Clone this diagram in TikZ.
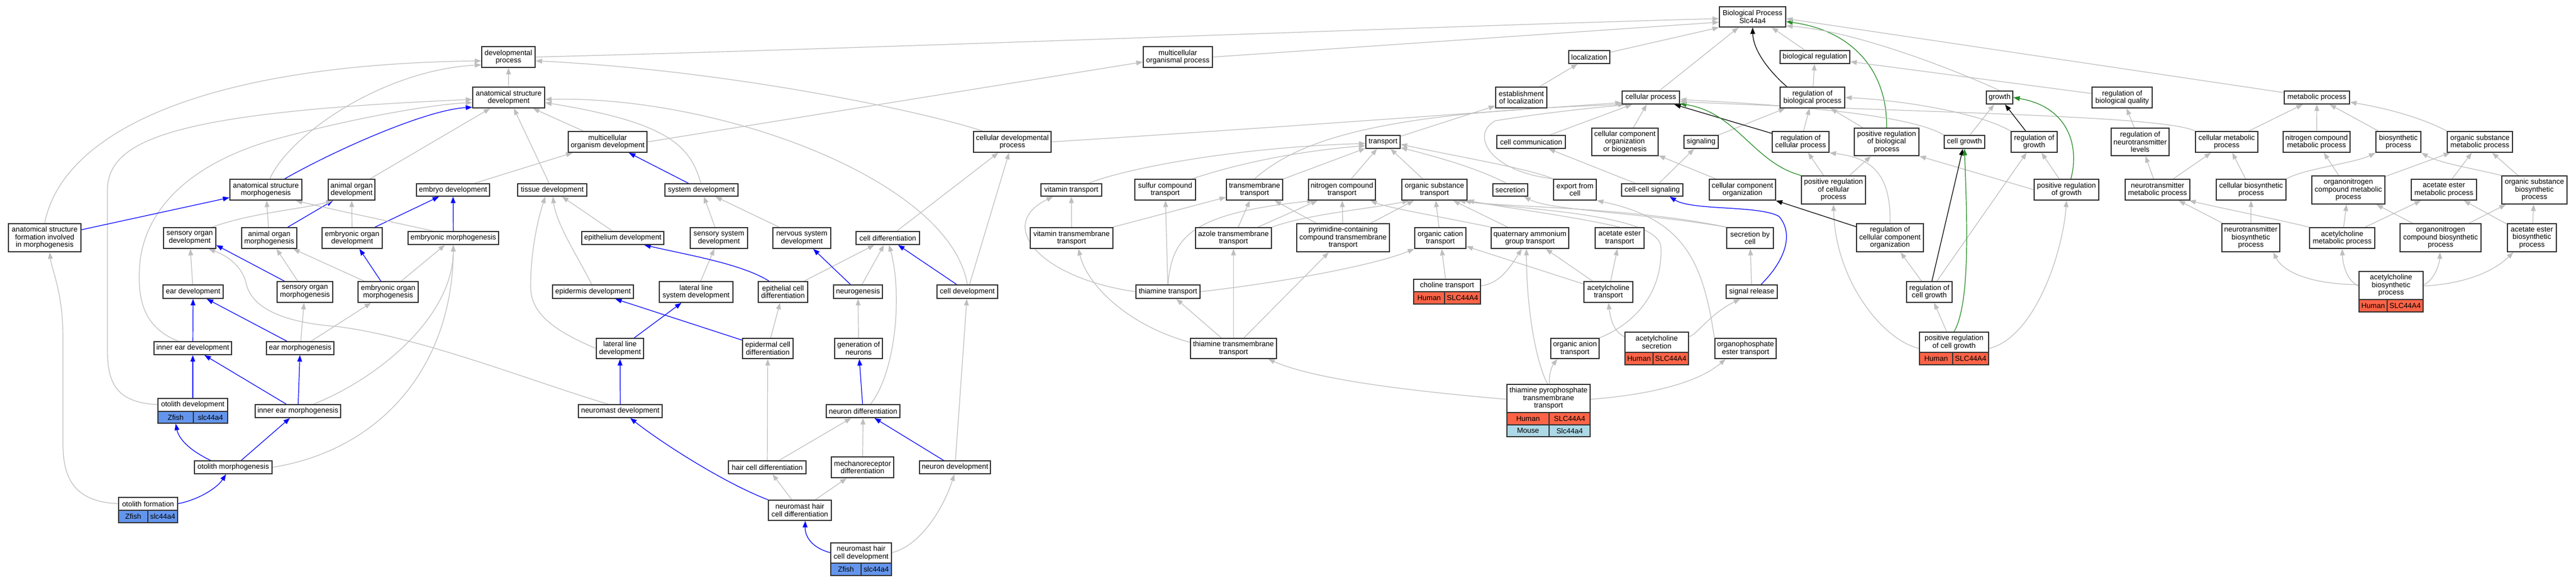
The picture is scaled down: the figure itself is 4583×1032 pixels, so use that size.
\documentclass[tikz,border=0pt]{standalone}
\usepackage{fontspec}
\setmainfont{Liberation Sans}
\usetikzlibrary{arrows.meta,calc}
\pgfdeclarelayer{bg}
\pgfsetlayers{bg,main}
\definecolor{egray}{RGB}{190,190,190}
\definecolor{egreen}{RGB}{34,139,34}
\definecolor{cHuman}{RGB}{255,99,71}
\definecolor{cZfish}{RGB}{100,149,237}
\definecolor{cMouse}{RGB}{173,216,230}
\definecolor{bdr}{RGB}{50,50,50}
\def\geneHuman{SLC44A4}\def\geneZfish{slc44a4}\def\geneMouse{Slc44a4}
\tikzset{
 gobox/.style={draw=bdr,line width=1.8pt,fill=white,inner sep=1pt,align=center,font=\fontsize{13}{13.5}\selectfont},
 txt/.style={inner sep=0pt,align=center,font=\fontsize{13}{13.5}\selectfont},
 cell/.style={draw=bdr,line width=1.4pt},
 conn/.style={line width=1.2pt,-{Triangle[length=11.5pt,width=8.5pt]}},
 isa/.style={conn,draw=egray},
 partof/.style={conn,draw=blue},
 regl/.style={conn,draw=black},
 posr/.style={conn,draw=egreen},
}
\newcommand\bx[6]{%
 \pgfmathsetmacro\cxx{(#2+#4)/2}%
 \pgfmathsetmacro\cyy{(#3+#5)/2}%
 \pgfmathsetmacro\ww{#4-#2}%
 \pgfmathsetmacro\hh{#5-#3}%
 \node[gobox,minimum width=\ww pt,minimum height=\hh pt] (#1) at (\cxx,\cyy) {#6};}
\newcommand\gbx[9]{%
 \pgfmathsetmacro\cxx{(#2+#3)/2}\pgfmathsetmacro\ww{#3-#2}%
 \pgfmathsetmacro\cyy{(#5+#7)/2}\pgfmathsetmacro\hh{#7-#5}%
 \pgfmathsetmacro\tyy{(#5+#6)/2}\pgfmathsetmacro\ryy{(#6+#7)/2}%
 \pgfmathsetmacro\lxx{(#2+#4)/2}\pgfmathsetmacro\rxx{(#4+#3)/2}%
 \node[gobox,minimum width=\ww pt,minimum height=\hh pt] (#1) at (\cxx,\cyy) {};
 \node[txt] (#1-t) at (\cxx,\tyy) {#8};
 \draw[cell,fill=c#9] (#2,#6) rectangle (#4,#7);
 \draw[cell,fill=c#9] (#4,#6) rectangle (#3,#7);
 \node[txt] (#1-s) at (\lxx,\ryy) {#9};
 \node[txt] (#1-g) at (\rxx,\ryy) {\csname gene#9\endcsname};
 \draw[draw=bdr,line width=1.8pt] (#2,#5) rectangle (#3,#7);}
\begin{document}
\begin{tikzpicture}[x=1pt,y=-1pt]
\useasboundingbox (0,0) rectangle (4583,1032);
\begin{pgfonlayer}{bg}\fill[white] (0,0) rectangle (4583,1032);\end{pgfonlayer}
% ---------- nodes ----------
\bx{bp}{3059}{12}{3177}{48}{Biological Process\\Slc44a4}
\bx{devproc}{857}{83}{952}{120}{developmental\\process}
\bx{mop}{2034}{83}{2157}{120}{multicellular\\organismal process}
\bx{loc}{2791}{90}{2864}{113}{localization}
\bx{bioreg}{3167}{90}{3291}{113}{biological regulation}
\bx{asd}{841}{155}{969}{192}{anatomical structure\\development}
\bx{estloc}{2661}{155}{2752}{192}{establishment\\of localization}
\bx{cellproc}{2886}{162}{2988}{185}{cellular process}
\bx{regbp}{3167}{155}{3282}{192}{regulation of\\biological process}
\bx{growth}{3534}{162}{3581}{185}{growth}
\bx{regbq}{3722}{155}{3829}{192}{regulation of\\biological quality}
\bx{metab}{4064}{162}{4180}{185}{metabolic process}
\bx{mod}{1011}{234}{1151}{271}{multicellular\\organism development}
\bx{celldevproc}{1732}{234}{1870}{271}{cellular developmental\\process}
\bx{transport}{2430}{241}{2491}{264}{transport}
\bx{cellcomm}{2663}{241}{2785}{264}{cell communication}
\bx{ccob}{2832}{228}{2950}{277}{cellular component\\organization\\or biogenesis}
\bx{signaling}{2996}{241}{3057}{264}{signaling}
\bx{regcp}{3153}{234}{3254}{271}{regulation of\\cellular process}
\bx{posregbp}{3299}{228}{3414}{277}{positive regulation\\of biological\\process}
\bx{cellgrowth}{3459}{241}{3531}{264}{cell growth}
\bx{reggrowth}{3578}{234}{3660}{271}{regulation of\\growth}
\bx{regntl}{3756}{228}{3859}{277}{regulation of\\neurotransmitter\\levels}
\bx{cellmet}{3906}{234}{4017}{271}{cellular metabolic\\process}
\bx{ncmet}{4062}{234}{4181}{271}{nitrogen compound\\metabolic process}
\bx{biosyn}{4227}{234}{4307}{271}{biosynthetic\\process}
\bx{osmet}{4354}{234}{4470}{271}{organic substance\\metabolic process}
\bx{asm}{409}{319}{537}{356}{anatomical structure\\morphogenesis}
\bx{aod}{584}{319}{667}{356}{animal organ\\development}
\bx{embdev}{741}{327}{871}{349}{embryo development}
\bx{tissdev}{921}{327}{1044}{349}{tissue development}
\bx{sysdev}{1183}{327}{1313}{349}{system development}
\bx{vittr}{1852}{327}{1960}{349}{vitamin transport}
\bx{sulftr}{2019}{319}{2127}{356}{sulfur compound\\transport}
\bx{tmtr}{2182}{319}{2282}{356}{transmembrane\\transport}
\bx{nctr}{2328}{319}{2447}{356}{nitrogen compound\\transport}
\bx{ostr}{2494}{319}{2610}{356}{organic substance\\transport}
\bx{secretion}{2656}{327}{2718}{349}{secretion}
\bx{export}{2764}{319}{2840}{356}{export from\\cell}
\bx{ccsig}{2885}{327}{2994}{349}{cell-cell signaling}
\bx{cco}{3041}{319}{3159}{356}{cellular component\\organization}
\bx{posregcp}{3205}{313}{3319}{363}{positive regulation\\of cellular\\process}
\bx{posreggrowth}{3619}{319}{3734}{356}{positive regulation\\of growth}
\bx{ntmet}{3781}{319}{3896}{356}{neurotransmitter\\metabolic process}
\bx{cellbiosyn}{3943}{319}{4067}{356}{cellular biosynthetic\\process}
\bx{oncmet}{4113}{313}{4243}{363}{organonitrogen\\compound metabolic\\process}
\bx{aemet}{4290}{319}{4406}{356}{acetate ester\\metabolic process}
\bx{osbiosyn}{4451}{313}{4567}{363}{organic substance\\biosynthetic\\process}
\bx{asfim}{15}{398}{144}{448}{anatomical structure\\formation involved\\in morphogenesis}
\bx{sod}{291}{405}{384}{442}{sensory organ\\development}
\bx{aom}{430}{405}{528}{442}{animal organ\\morphogenesis}
\bx{eod}{573}{405}{680}{442}{embryonic organ\\development}
\bx{embmorph}{726}{412}{887}{435}{embryonic morphogenesis}
\bx{epidev}{1035}{412}{1181}{435}{epithelium development}
\bx{ssd}{1228}{405}{1330}{442}{sensory system\\development}
\bx{nsd}{1375}{405}{1478}{442}{nervous system\\development}
\bx{celldiff}{1523}{412}{1636}{435}{cell differentiation}
\bx{vittmtr}{1833}{405}{1980}{442}{vitamin transmembrane\\transport}
\bx{azole}{2127}{405}{2262}{442}{azole transmembrane\\transport}
\bx{pyrim}{2307}{398}{2472}{448}{pyrimidine-containing\\compound transmembrane\\transport}
\bx{octr}{2517}{405}{2608}{442}{organic cation\\transport}
\bx{qagt}{2653}{405}{2791}{442}{quaternary ammonium\\group transport}
\bx{aetr}{2838}{405}{2925}{442}{acetate ester\\transport}
\bx{secbycell}{3072}{405}{3155}{442}{secretion by\\cell}
\bx{regcco}{3303}{398}{3422}{448}{regulation of\\cellular component\\organization}
\bx{ntbiosyn}{3953}{398}{4056}{448}{neurotransmitter\\biosynthetic\\process}
\bx{achmet}{4109}{405}{4225}{442}{acetylcholine\\metabolic process}
\bx{oncbiosyn}{4270}{398}{4414}{448}{organonitrogen\\compound biosynthetic\\process}
\bx{aebiosyn}{4461}{398}{4548}{448}{acetate ester\\biosynthetic\\process}
\bx{eardev}{290}{507}{397}{531}{ear development}
\bx{som}{493}{501}{592}{538}{sensory organ\\morphogenesis}
\bx{eom}{637}{501}{744}{538}{embryonic organ\\morphogenesis}
\bx{epiddev}{983}{507}{1127}{531}{epidermis development}
\bx{llsd}{1173}{501}{1304}{538}{lateral line\\system development}
\bx{epicd}{1349}{501}{1437}{538}{epithelial cell\\differentiation}
\bx{neurogenesis}{1483}{507}{1570}{531}{neurogenesis}
\bx{celldev}{1667}{507}{1775}{531}{cell development}
\bx{thtr}{2021}{507}{2135}{531}{thiamine transport}
\bx{achtr}{2818}{501}{2905}{538}{acetylcholine\\transport}
\bx{sigrel}{3071}{507}{3162}{531}{signal release}
\bx{regcg}{3392}{501}{3473}{538}{regulation of\\cell growth}
\bx{iedev}{274}{608}{412}{631}{inner ear development}
\bx{earmorph}{474}{608}{594}{631}{ear morphogenesis}
\bx{lld}{1061}{602}{1145}{638}{lateral line\\development}
\bx{epdcd}{1321}{602}{1411}{638}{epidermal cell\\differentiation}
\bx{genneur}{1485}{602}{1570}{638}{generation of\\neurons}
\bx{thtmtr}{2118}{602}{2271}{638}{thiamine transmembrane\\transport}
\bx{oatr}{2759}{602}{2845}{638}{organic anion\\transport}
\bx{opetr}{3051}{602}{3160}{638}{organophosphate\\ester transport}
\bx{iem}{454}{720}{606}{743}{inner ear morphogenesis}
\bx{nmdev}{1029}{720}{1178}{743}{neuromast development}
\bx{neurdiff}{1470}{720}{1601}{743}{neuron differentiation}
\bx{otomorph}{346}{820}{484}{843}{otolith morphogenesis}
\bx{hcd}{1296}{820}{1434}{843}{hair cell differentiation}
\bx{mrd}{1479}{813}{1590}{850}{mechanoreceptor\\differentiation}
\bx{neurdev}{1636}{820}{1762}{843}{neuron development}
\bx{nmhcd}{1367}{890}{1479}{926}{neuromast hair\\cell differentiation}
\gbx{choline}{2515}{2634}{2570}{497}{519}{541}{choline transport}{Human}
\gbx{achbiosyn}{4197}{4311}{4247}{483}{533}{555}{acetylcholine\\biosynthetic\\process}{Human}
\gbx{achsec}{2891}{3004}{2941}{591}{627}{649}{acetylcholine\\secretion}{Human}
\gbx{posregcg}{3415}{3538}{3474}{591}{627}{649}{positive regulation\\of cell growth}{Human}
\gbx{otodev}{281}{405}{344}{709}{732}{753}{otolith development}{Zfish}
\gbx{otoform}{211}{316}{263}{885}{908}{930}{otolith formation}{Zfish}
\gbx{nmhcdev}{1478}{1586}{1532}{966}{1002}{1024}{neuromast hair\\cell development}{Zfish}
\node[gobox,minimum width=148pt,minimum height=93pt] (tpptr) at (2755,730.5) {};
\node[txt] (tpptr-t) at (2755,709) {thiamine pyrophosphate\\transmembrane\\transport};
\draw[cell,fill=cHuman] (2681,734) rectangle (2756,756);
\draw[cell,fill=cHuman] (2756,734) rectangle (2829,756);
\draw[cell,fill=cMouse] (2681,756) rectangle (2756,777);
\draw[cell,fill=cMouse] (2756,756) rectangle (2829,777);
\node[txt] (tpptr-s1) at (2718.5,745) {Human};
\node[txt] (tpptr-g1) at (2792.5,745) {SLC44A4};
\node[txt] (tpptr-s2) at (2718.5,766.5) {Mouse};
\node[txt] (tpptr-g2) at (2792.5,766.5) {Slc44a4};
\draw[draw=bdr,line width=1.8pt] (2681,684) rectangle (2829,777);
% ---------- edges ----------
\begin{pgfonlayer}{bg}
% to Biological Process
\draw[isa] (devproc.east) .. controls (1600,85) and (2600,45) .. (bp.183);
\draw[isa] (mop.east) -- (bp.189);
\draw[isa] (loc) -- (bp.south west);
\draw[isa] (cellproc) -- (bp.217);
\draw[regl] (regbp.157) .. controls (3140,120) and (3119,85) .. (bp.south);
\draw[isa] (bioreg) -- (bp.-29);
\draw[posr] (posregbp.north) .. controls (3358,130) and (3300,55) .. (bp.-8);
\draw[isa] (growth.north) .. controls (3480,125) and (3300,55) .. (bp.-15);
\draw[isa] (metab) -- (bp.-3);
\draw[isa] (regbq) -- (bioreg);
\draw[isa] (regntl) -- (regbq);
\draw[isa] (regbp) -- (bioreg);
\draw[isa] (estloc) -- (loc);
\draw[isa] (transport) -- (estloc);
\draw[isa] (mod.east) -- (mop.188);
\draw[isa] (celldevproc.160) .. controls (1650,200) and (1300,125) .. (devproc.-8);
\draw[isa] (celldevproc.east) .. controls (2300,225) and (2700,195) .. (cellproc.190);
\draw[isa] (tmtr.north) .. controls (2310,250) and (2450,200) .. (cellproc.195);
\draw[isa] (export.north west) .. controls (2650,305) and (2615,240) .. (2660,215) .. controls (2750,200) and (2850,190) .. (cellproc.200);
\draw[isa] (cellcomm) -- (cellproc);
\draw[isa] (ccob) -- (cellproc);
\draw[isa] (signaling) -- (regbp);
\draw[regl] (regcp) -- (cellproc);
\draw[isa] (regcp) -- (regbp);
\draw[isa] (posregbp) -- (regbp);
\draw[isa] (posregcp) -- (regcp);
\draw[isa] (posregcp) -- (posregbp);
\draw[posr] (posregcp.north west) .. controls (3120,290) and (3090,200) .. (cellproc.-12);
\draw[isa] (cellmet.north west) .. controls (3850,205) and (3400,200) .. (cellproc.-8);
\draw[isa] (cellgrowth.north west) .. controls (3400,205) and (3200,188) .. (cellproc.-4);
\draw[isa] (cellgrowth) -- (growth);
\draw[regl] (reggrowth) -- (growth);
\draw[isa] (reggrowth.north west) .. controls (3520,200) and (3380,178) .. (regbp.east);
\draw[isa] (posreggrowth) -- (reggrowth);
\draw[posr] (posreggrowth.68) .. controls (3700,260) and (3680,190) .. (growth.east);
\draw[isa] (posreggrowth.west) -- (posregbp.south east);
\draw[regl] (regcg) -- (cellgrowth);
\draw[isa] (regcg) -- (reggrowth);
\draw[isa] (regcg) -- (regcco);
\draw[isa] (posregcg) -- (regcg);
\draw[posr] (posregcg.north) .. controls (3505,540) and (3500,400) .. (cellgrowth.south);
\draw[isa] (posregcg.east) .. controls (3620,600) and (3670,450) .. (posreggrowth.south);
\draw[isa] (posregcg.west) .. controls (3350,605) and (3265,500) .. (posregcp.south);
\draw[regl] (regcco) -- (cco);
\draw[isa] (regcco.north) .. controls (3365,300) and (3320,280) .. (regcp.south east);
\draw[isa] (ccsig) -- (cellcomm);
\draw[isa] (ccsig) -- (signaling);
\draw[isa] (cco) -- (ccob);
\draw[isa] (sigrel) -- (secbycell);
\draw[partof] (sigrel.38) .. controls (3170,470) and (3195,420) .. (3165,385) .. controls (3130,365) and (3010,375) .. (ccsig.-21);
\draw[isa] (secbycell.north west) .. controls (2920,378) and (2760,375) .. (secretion.-26);
\draw[isa] (secbycell.north west) .. controls (2900,368) and (2660,368) .. (ostr.-20);
\draw[isa] (opetr.north west) .. controls (3030,470) and (3000,390) .. (export.south east);
\draw[isa] (oatr.north east) .. controls (2910,575) and (2958,520) .. (2955,440) .. controls (2952,380) and (2700,372) .. (ostr.-24);
\draw[isa] (achsec.160) .. controls (2870,590) and (2865,565) .. (achtr.south);
\draw[isa] (achsec.20) .. controls (3020,595) and (3040,560) .. (sigrel.-148);
\draw[isa] (achtr) -- (octr);
\draw[isa] (achtr) -- (qagt);
\draw[isa] (achtr) -- (aetr);
\draw[isa] (choline) -- (octr);
\draw[isa] (choline.10) .. controls (2670,505) and (2690,470) .. (qagt.-127);
\draw[isa] (tpptr.165) .. controls (2560,700) and (2350,680) .. (thtmtr.-17);
\draw[isa] (tpptr.88) .. controls (2755,665) and (2762,650) .. (oatr.-149);
\draw[isa] (tpptr.92) .. controls (2735,650) and (2716,560) .. (qagt.-108);
\draw[isa] (tpptr.15) .. controls (2900,705) and (3010,690) .. (opetr.-152);
\draw[isa] (thtmtr) -- (thtr);
\draw[isa] (thtmtr) -- (azole);
\draw[isa] (thtmtr) -- (pyrim);
\draw[isa] (thtmtr.172) .. controls (2010,580) and (1935,510) .. (vittmtr.-58);
\draw[isa] (thtr) -- (sulftr);
\draw[isa] (thtr.west) .. controls (1850,495) and (1770,400) .. (vittr.-160);
\draw[isa] (thtr.east) .. controls (2300,500) and (2450,470) .. (octr.south west);
\draw[isa] (thtr.north) .. controls (2085,420) and (2120,380) .. (nctr.-159);
\draw[isa] (vittmtr) -- (vittr);
\draw[isa] (vittmtr) -- (tmtr);
\draw[isa] (azole) -- (tmtr);
\draw[isa] (azole) -- (nctr);
\draw[isa] (azole.north east) .. controls (2330,380) and (2450,370) .. (ostr.-157);
\draw[isa] (pyrim) -- (tmtr);
\draw[isa] (pyrim) -- (nctr);
\draw[isa] (pyrim) -- (ostr);
\draw[isa] (octr) -- (ostr);
\draw[isa] (qagt) -- (ostr.-30);
\draw[isa] (qagt.north west) .. controls (2560,385) and (2470,370) .. (nctr.-21);
\draw[isa] (aetr.north) .. controls (2800,385) and (2680,370) .. (ostr.-18);
\draw[isa] (vittr.21) .. controls (2000,300) and (2200,262) .. (transport.185);
\draw[isa] (sulftr.22) .. controls (2200,292) and (2300,270) .. (transport.192);
\draw[isa] (tmtr) -- (transport.200);
\draw[isa] (nctr) -- (transport);
\draw[isa] (ostr) -- (transport);
\draw[isa] (secretion.120) .. controls (2630,300) and (2560,280) .. (transport.-18);
\draw[isa] (export.north west) .. controls (2720,300) and (2600,280) .. (transport.-8);
% development
\draw[isa] (asd) -- (devproc);
\draw[isa] (asfim.north) .. controls (110,240) and (350,115) .. (devproc.188);
\draw[isa] (asm.70) .. controls (515,240) and (680,125) .. (devproc.196);
\draw[partof] (asm.30) .. controls (600,265) and (760,195) .. (asd.195);
\draw[isa] (aod) -- (asd);
\draw[isa] (otodev.170) .. controls (205,716) and (191,680) .. (191,620) -- (191,340) .. controls (191,250) and (300,200) .. (asd.183);
\draw[isa] (iedev.154) .. controls (260,585) and (245,540) .. (248,480) .. controls (252,380) and (330,290) .. (500,245) .. controls (650,205) and (780,185) .. (asd.188);
\draw[isa] (tissdev) -- (asd);
\draw[isa] (mod) -- (asd);
\draw[isa] (sysdev.95) .. controls (1228,260) and (1190,218) .. (asd.-8);
\draw[isa] (celldev.north) .. controls (1690,320) and (1280,170) .. (asd.-3);
\draw[partof] (sysdev) -- (mod);
\draw[isa] (embdev) -- (mod);
\draw[partof] (aom) -- (aod);
\draw[isa] (eod) -- (aod);
\draw[isa] (sod.26) .. controls (450,378) and (540,372) .. (aod.-150);
\draw[partof] (eod) -- (embdev);
\draw[partof] (embmorph) -- (embdev);
\draw[partof] (asfim) -- (asm);
\draw[isa] (embmorph.161) .. controls (700,395) and (600,375) .. (asm.-20);
\draw[isa] (aom) -- (asm);
\draw[isa] (epidev) -- (tissdev);
\draw[isa] (epiddev.100) .. controls (1030,460) and (990,400) .. (tissdev.-85);
\draw[isa] (lld.west) .. controls (990,590) and (944,560) .. (944,510) .. controls (944,440) and (960,380) .. (tissdev.-136);
\draw[isa] (ssd) -- (sysdev);
\draw[isa] (nsd) -- (sysdev);
\draw[isa] (eardev) -- (sod);
\draw[partof] (som) -- (sod.-15);
\draw[isa] (nmdev.150) .. controls (950,680) and (750,600) .. (600,581) .. controls (520,575) and (450,555) .. (438,505) .. controls (432,475) and (405,455) .. (sod.-30);
\draw[isa] (som) -- (aom);
\draw[isa] (eom) -- (aom);
\draw[partof] (eom) -- (eod);
\draw[isa] (eom) -- (embmorph);
\draw[isa] (otomorph.east) .. controls (680,800) and (805,650) .. (embmorph.south);
\draw[isa] (iem.24) .. controls (680,670) and (806,560) .. (embmorph.south);
\draw[partof] (iedev) -- (eardev);
\draw[partof] (earmorph) -- (eardev);
\draw[isa] (earmorph) -- (som);
\draw[isa] (earmorph) -- (eom);
\draw[partof] (otodev) -- (iedev);
\draw[partof] (iem) -- (iedev);
\draw[partof] (iem) -- (earmorph);
\draw[partof] (otomorph.163) .. controls (335,800) and (318,780) .. (otodev.-143);
\draw[partof] (otomorph) -- (iem);
\draw[partof] (otoform.12) .. controls (350,890) and (385,870) .. (otomorph.-136);
\draw[isa] (otoform.168) .. controls (140,893) and (112,860) .. (112,790) -- (112,600) .. controls (112,520) and (92,480) .. (asfim.-71);
\draw[isa] (llsd) -- (ssd);
\draw[partof] (lld) -- (llsd);
\draw[partof] (nmdev) -- (lld);
\draw[partof] (epicd.142) .. controls (1320,470) and (1230,455) .. (epidev.-18);
\draw[isa] (epicd) -- (celldiff);
\draw[partof] (epdcd) -- (epiddev);
\draw[isa] (epdcd) -- (epicd);
\draw[partof] (neurogenesis) -- (nsd);
\draw[isa] (neurogenesis) -- (celldiff);
\draw[isa] (genneur) -- (neurogenesis);
\draw[partof] (neurdiff) -- (genneur);
\draw[isa] (neurdiff.43) .. controls (1595,660) and (1605,520) .. (celldiff.-80);
\draw[isa] (hcd) -- (epdcd);
\draw[isa] (hcd) -- (neurdiff);
\draw[isa] (mrd) -- (neurdiff);
\draw[isa] (nmhcd) -- (hcd);
\draw[isa] (nmhcd) -- (mrd);
\draw[partof] (nmhcd.north west) .. controls (1290,860) and (1180,790) .. (nmdev.-35);
\draw[partof] (nmhcdev.168) .. controls (1445,975) and (1432,955) .. (nmhcd.-63);
\draw[isa] (nmhcdev.12) .. controls (1640,970) and (1680,900) .. (neurdev.-95);
\draw[partof] (neurdev) -- (neurdiff);
\draw[isa] (neurdev) -- (celldev);
\draw[partof] (celldev) -- (celldiff);
\draw[isa] (celldev) -- (celldevproc);
\draw[isa] (celldiff) -- (celldevproc);
% metabolism
\draw[isa] (cellmet) -- (metab);
\draw[isa] (ncmet) -- (metab);
\draw[isa] (biosyn) -- (metab);
\draw[isa] (osmet.north west) .. controls (4300,205) and (4230,190) .. (metab.-8);
\draw[isa] (ntmet) -- (regntl);
\draw[isa] (ntmet) -- (cellmet);
\draw[isa] (cellbiosyn) -- (cellmet);
\draw[isa] (cellbiosyn.north east) .. controls (4100,300) and (4190,290) .. (biosyn.south west);
\draw[isa] (oncmet) -- (ncmet);
\draw[isa] (oncmet) -- (osmet);
\draw[isa] (aemet) -- (osmet);
\draw[isa] (osbiosyn) -- (osmet);
\draw[isa] (osbiosyn.north west) .. controls (4400,300) and (4340,290) .. (biosyn.south east);
\draw[isa] (ntbiosyn) -- (ntmet);
\draw[isa] (ntbiosyn) -- (cellbiosyn);
\draw[isa] (achmet.north west) .. controls (4050,390) and (3950,370) .. (ntmet.-19);
\draw[isa] (achmet) -- (oncmet);
\draw[isa] (achmet) -- (aemet);
\draw[isa] (oncbiosyn) -- (oncmet);
\draw[isa] (oncbiosyn) -- (osbiosyn);
\draw[isa] (aebiosyn) -- (aemet);
\draw[isa] (aebiosyn) -- (osbiosyn);
\draw[isa] (achbiosyn.168) .. controls (4100,505) and (4060,480) .. (ntbiosyn.-33);
\draw[isa] (achbiosyn.170) .. controls (4175,500) and (4168,470) .. (achmet.south);
\draw[isa] (achbiosyn.12) .. controls (4330,500) and (4340,470) .. (oncbiosyn.-92);
\draw[isa] (achbiosyn.10) .. controls (4390,505) and (4440,480) .. (aebiosyn.-142);
\end{pgfonlayer}
\end{tikzpicture}
\end{document}
